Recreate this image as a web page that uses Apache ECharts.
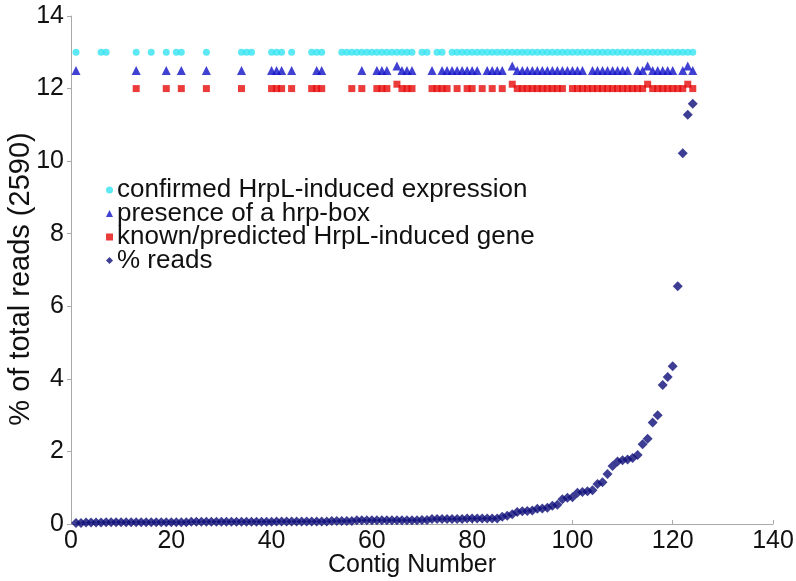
<!DOCTYPE html>
<html>
<head>
<meta charset="utf-8">
<script src="https://cdn.jsdelivr.net/npm/echarts@6/dist/echarts.min.js"></script>
<style>html,body{margin:0;padding:0;background:#fff;}#chart{width:796px;height:581px;}</style>
</head>
<body>
<div id="chart"></div>
<script>
// % of total reads for contigs 1..124
const pctReads = [
  0.03,0.03,0.04,0.04,0.04,0.04,0.05,0.05,0.05,0.05,
  0.05,0.05,0.05,0.05,0.05,0.05,0.05,0.05,0.05,0.05,
  0.05,0.05,0.05,0.06,0.06,0.06,0.06,0.06,0.06,0.06,
  0.06,0.06,0.06,0.06,0.06,0.06,0.06,0.06,0.06,0.06,
  0.07,0.07,0.07,0.07,0.07,0.07,0.07,0.07,0.07,0.07,
  0.07,0.08,0.08,0.08,0.08,0.08,
  0.1,0.1,0.1,0.1,0.1,0.1,0.1,0.1,0.1,0.1,0.1,0.1,0.1,0.11,0.11,
  0.14,0.14,0.14,0.14,0.14,0.14,0.14,0.15,0.15,0.15,0.15,0.15,0.15,0.15,
  0.2,0.23,0.27,
  0.33,0.35,0.36,0.37,
  0.42,0.43,0.45,
  0.5,0.53,
  0.68,0.72,0.74,
  0.86,0.88,0.9,0.93,
  1.1,1.15,
  1.38,1.6,
  1.72,1.76,1.78,1.82,1.9,
  2.2,2.35,2.8,3.0,3.83,4.05,4.35,6.55,10.22,11.28,11.58
];
const contigNumbers = pctReads.map((v, i) => i + 1);

// contigs flagged in each category (drawn at fixed marker rows)
const confirmedContigs = [1,6,7,13,16,19,21,22,27,34,35,36,40,41,42,44,48,49,50,54,55,56,
  57,58,59,60,61,62,63,64,65,66,67,68,70,71,73,74,
  76,77,78,79,80,81,82,83,84,85,86,87,88,89,90,91,92,93,94,95,96,97,98,99,100,
  101,102,103,104,105,106,107,108,109,110,111,112,113,114,115,116,117,118,119,120,
  121,122,123,124];
const hrpBoxContigs = [1,13,19,22,27,34,40,41,42,44,49,50,58,61,62,63,66,67,68,72,74,75,
  76,77,78,79,80,81,83,84,85,86,89,90,91,92,93,94,95,96,97,98,99,100,101,102,
  104,105,106,107,108,109,110,111,113,114,116,117,118,119,120,122,124];
const hrpBoxRaisedContigs = [65,88,115,123];
const knownContigs = [13,19,22,27,34,40,41,42,44,48,49,50,56,58,61,62,63,66,67,68,72,73,74,75,
  77,79,80,82,84,86,89,90,91,92,93,94,95,96,97,98,100,101,102,103,104,105,106,107,108,
  109,110,111,112,113,114,116,117,118,119,120,121,122,124];
const knownRaisedContigs = [65,88,115,123];

const confirmedLevel = 13, hrpBoxLevel = 12.5, hrpBoxRaisedLevel = 12.62, knownLevel = 12, knownRaisedLevel = 12.12;

const xTicks = {min: 0, max: 140, interval: 20};
const yTicks = {min: 0, max: 14, interval: 2};

const FONT = '"Liberation Sans", Arial, sans-serif';
const chart = echarts.init(document.getElementById('chart'), null, {renderer: 'canvas'});

chart.setOption({
  animation: false,
  backgroundColor: '#ffffff',
  grid: {left: 71, right: 23, top: 16, bottom: 57, containLabel: false, outerBoundsMode: 'none'},
  legend: {
    orient: 'vertical', left: 101, top: 172,
    itemWidth: 7, itemHeight: 7, itemGap: -2.5,
    textStyle: {fontFamily: FONT, fontSize: 26, color: '#111', lineHeight: 24.5, padding: [0,0,0,-1]},
    data: [
      {name: 'confirmed HrpL-induced expression', icon: 'circle'},
      {name: 'presence of a hrp-box', icon: 'triangle'},
      {name: 'known/predicted HrpL-induced gene', icon: 'rect'},
      {name: '% reads', icon: 'diamond'}
    ]
  },
  xAxis: {
    type: 'value', min: xTicks.min, max: xTicks.max, interval: xTicks.interval,
    name: 'Contig Number', nameLocation: 'middle', nameGap: 29, nameMoveOverlap: false,
    nameTextStyle: {fontFamily: FONT, fontSize: 25, color: '#111', padding: [0, 20, 0, 0]},
    axisLine: {show: true, lineStyle: {color: '#aaaaaa', width: 1}},
    axisTick: {show: true, inside: true, length: 4, lineStyle: {color: '#aaaaaa'}},
    axisLabel: {fontFamily: FONT, fontSize: 25, color: '#111', margin: 5},
    splitLine: {show: false}
  },
  yAxis: {
    type: 'value', min: yTicks.min, max: yTicks.max, interval: yTicks.interval,
    name: '% of total reads (2590)', nameLocation: 'middle', nameGap: 36, nameMoveOverlap: false,
    nameTextStyle: {fontFamily: FONT, fontSize: 29, color: '#111', padding: [0, 18, 0, 0]},
    axisLine: {show: true, lineStyle: {color: '#aaaaaa', width: 1}},
    axisTick: {show: true, inside: false, length: 4, lineStyle: {color: '#aaaaaa'}},
    axisLabel: {fontFamily: FONT, fontSize: 25, color: '#111', margin: 7},
    splitLine: {show: false}
  },
  series: [
    {
      name: 'confirmed HrpL-induced expression', type: 'scatter', symbol: 'circle', symbolSize: 7,
      itemStyle: {color: '#33e3f0'},
      data: confirmedContigs.map(c => [c, confirmedLevel])
    },
    {
      name: 'presence of a hrp-box', type: 'scatter', symbol: 'triangle', symbolSize: 9,
      itemStyle: {color: '#1010c8'},
      data: hrpBoxContigs.map(c => [c, hrpBoxLevel]).concat(hrpBoxRaisedContigs.map(c => [c, hrpBoxRaisedLevel]))
    },
    {
      name: 'known/predicted HrpL-induced gene', type: 'scatter', symbol: 'rect', symbolSize: 7,
      itemStyle: {color: '#e60a0a'},
      data: knownContigs.map(c => [c, knownLevel]).concat(knownRaisedContigs.map(c => [c, knownRaisedLevel]))
    },
    {
      name: '% reads', type: 'scatter', symbol: 'diamond', symbolSize: 10,
      itemStyle: {color: '#0c0c78'},
      data: contigNumbers.map((c, i) => [c, pctReads[i]])
    }
  ]
});
</script>
</body>
</html>
